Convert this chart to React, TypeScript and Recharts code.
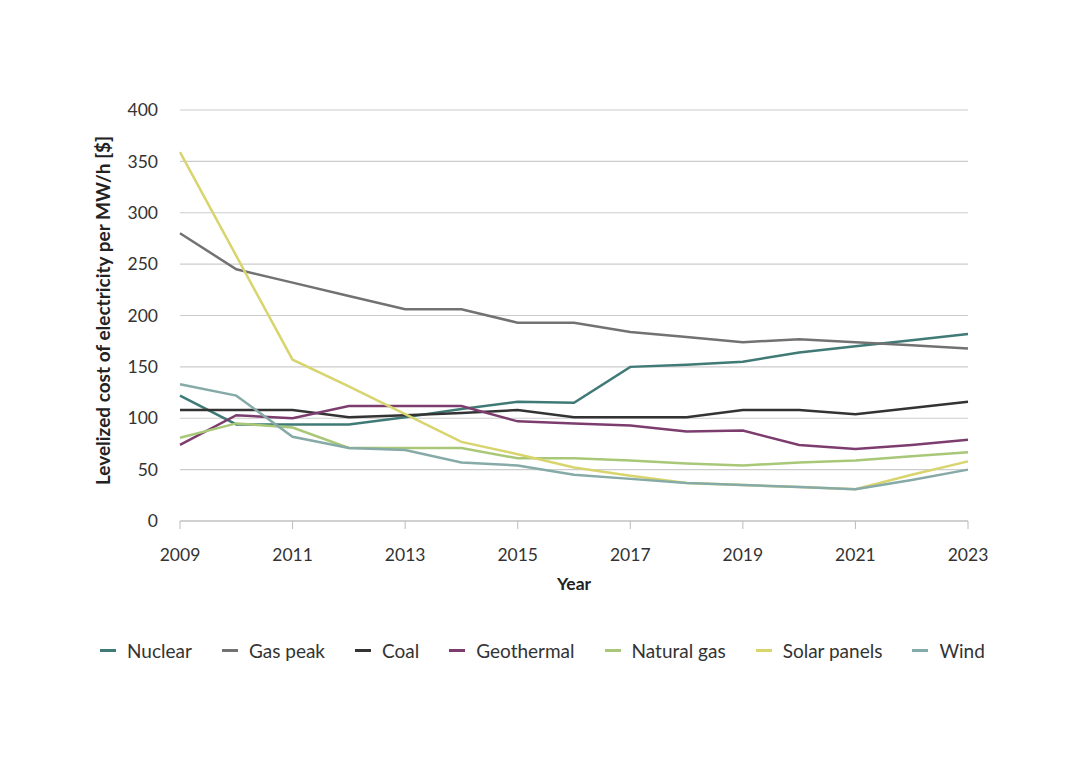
import React from 'react';
import { LineChart, Line, XAxis, YAxis, CartesianGrid, Legend } from 'recharts';

const years = [2009, 2010, 2011, 2012, 2013, 2014, 2015, 2016, 2017, 2018, 2019, 2020, 2021, 2022, 2023];
const nuclear = [122, 94, 94, 94, 101, 109, 116, 115, 150, 152, 155, 164, 170, 176, 182];
const gasPeak = [280, 245, 232, 219, 206, 206, 193, 193, 184, 179, 174, 177, 174, 171, 168];
const coal = [108, 108, 108, 101, 103, 105, 108, 101, 101, 101, 108, 108, 104, 110, 116];
const geothermal = [74, 103, 100, 112, 112, 112, 97, 95, 93, 87, 88, 74, 70, 74, 79];
const naturalGas = [81, 95, 91, 71, 71, 71, 61, 61, 59, 56, 54, 57, 59, 63, 67];
const solar = [359, 258, 157, 131, 104, 77, 65, 52, 44, 37, 35, 33, 31, 45, 58];
const wind = [133, 122, 82, 71, 69, 57, 54, 45, 41, 37, 35, 33, 31, 40, 50];
const yTicks = [0, 50, 100, 150, 200, 250, 300, 350, 400];

const series = [
  { key: 'nuclear', name: 'Nuclear', values: nuclear, color: '#3f7a76' },
  { key: 'gasPeak', name: 'Gas peak', values: gasPeak, color: '#727272' },
  { key: 'coal', name: 'Coal', values: coal, color: '#333333' },
  { key: 'geothermal', name: 'Geothermal', values: geothermal, color: '#7c3d6e' },
  { key: 'naturalGas', name: 'Natural gas', values: naturalGas, color: '#a8c878' },
  { key: 'solar', name: 'Solar panels', values: solar, color: '#d8d46e' },
  { key: 'wind', name: 'Wind', values: wind, color: '#86aaa7' },
];

const data = years.map((year, i) => {
  const row: Record<string, number> = { year };
  series.forEach((s) => {
    row[s.key] = s.values[i];
  });
  return row;
});

const FONT = 'Lato, "Noto Sans", sans-serif';

const LegendContent = () => (
  <div
    style={{
      display: 'flex',
      alignItems: 'center',
      height: 24,
      paddingLeft: 92,
      whiteSpace: 'nowrap',
      fontFamily: FONT,
      fontSize: 19,
      color: '#333',
    }}
  >
    {series.map((s) => (
      <div key={s.key} style={{ display: 'flex', alignItems: 'center', marginRight: 30 }}>
        <span style={{ display: 'inline-block', width: 16, height: 3, background: s.color, marginRight: 11 }} />
        <span>{s.name}</span>
      </div>
    ))}
  </div>
);

const App = () => {
  return (
    <div style={{ width: 1064, height: 748 }}>
      <LineChart width={1064} height={748} data={data} margin={{ top: 102, right: 104, left: 100, bottom: 94 }}>
        <CartesianGrid vertical={false} stroke="#cccccc" strokeWidth={1.2} />
        <XAxis
          dataKey="year"
          interval={1}
          height={117}
          tickSize={8}
          tickMargin={20}
          stroke="#bbbbbb"
          tick={{ fill: '#333', fontSize: 17.5, fontFamily: FONT }}
          label={{
            content: ({ viewBox }: any) => (
              <text
                x={viewBox.x + viewBox.width / 2}
                y={viewBox.y + 65}
                textAnchor="middle"
                dominantBaseline="middle"
                fill="#222"
                fontSize={17.5}
                fontWeight={700}
                fontFamily={FONT}
              >
                Year
              </text>
            ),
          }}
        />
        <YAxis
          domain={[0, 400]}
          ticks={yTicks}
          width={72}
          axisLine={false}
          tickLine={false}
          tickMargin={16}
          tick={{ fill: '#333', fontSize: 17.5, fontFamily: FONT }}
          label={{
            content: ({ viewBox }: any) => {
              const cx = viewBox.x - 3;
              const cy = viewBox.y + viewBox.height / 2 - 5;
              return (
                <text
                  x={cx}
                  y={cy}
                  transform={`rotate(-90 ${cx} ${cy})`}
                  textAnchor="middle"
                  dominantBaseline="middle"
                  fill="#222"
                  fontSize={19}
                  fontWeight={700}
                  fontFamily={FONT}
                >
                  Levelized cost of electricity per MW/h [$]
                </text>
              );
            },
          }}
        />
        <Legend
          verticalAlign="bottom"
          align="left"
          height={24}
          wrapperStyle={{ left: 0, width: 1064 }}
          content={<LegendContent />}
        />
        {series.map((s) => (
          <Line
            key={s.key}
            type="linear"
            dataKey={s.key}
            name={s.name}
            stroke={s.color}
            strokeWidth={2.5}
            dot={false}
            activeDot={false}
            isAnimationActive={false}
          />
        ))}
      </LineChart>
    </div>
  );
};

export default App;
